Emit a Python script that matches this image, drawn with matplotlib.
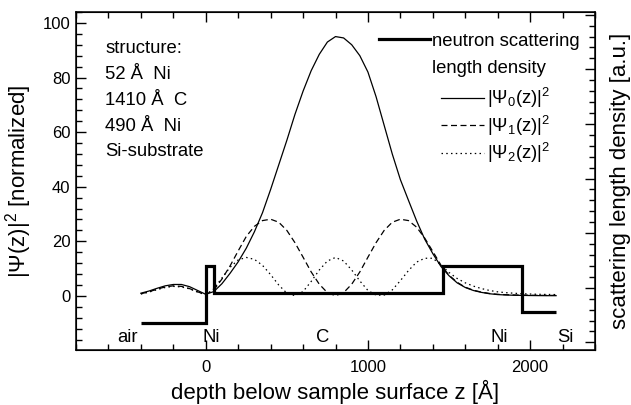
import matplotlib
matplotlib.use('Agg')
import matplotlib.pyplot as plt
from matplotlib.lines import Line2D
from matplotlib.ticker import MultipleLocator

plt.rcParams['font.family'] = ['Liberation Sans', 'DejaVu Sans']
plt.rcParams['mathtext.fontset'] = 'custom'
plt.rcParams['mathtext.rm'] = 'Liberation Sans'
plt.rcParams['mathtext.it'] = 'Liberation Sans'

# depth grid (Å)
z = [-400, -350, -300, -250, -200, -150, -100, -50, 0, 50,
     100, 150, 200, 250, 300, 350, 400, 450, 500, 550,
     600, 650, 700, 750, 800, 850, 900, 950, 1000, 1050,
     1100, 1150, 1200, 1250, 1300, 1350, 1400, 1450, 1500, 1550,
     1600, 1650, 1700, 1750, 1800, 1850, 1900, 1950, 2000, 2050,
     2100, 2160]

psi0 = [1.0, 1.8, 2.8, 3.7, 4.2, 4.2, 3.4, 2.0, 0.6, 1.6,
        4.5, 8.3, 12.5, 17.5, 23.5, 30.5, 39.0, 48.0, 57.0, 66.5,
        75.0, 82.5, 88.5, 93.0, 95.0, 94.5, 92.0, 88.0, 82.0, 73.0,
        62.5, 52.0, 42.6, 35.0, 27.5, 20.8, 15.5, 10.8, 7.4, 4.8,
        3.1, 2.0, 1.3, 0.8, 0.5, 0.35, 0.25, 0.2, 0.15, 0.12,
        0.1, 0.1]

psi1 = [0.8, 1.5, 2.5, 3.3, 3.7, 3.5, 2.7, 1.5, 0.5, 2.2,
        6.2, 11.0, 16.5, 21.8, 25.5, 27.6, 28.1, 27.0, 24.0, 19.5,
        14.2, 8.8, 4.3, 1.2, 0.1, 1.2, 4.3, 8.8, 14.2, 19.5,
        24.0, 27.0, 28.1, 27.6, 25.2, 21.2, 16.3, 11.3, 7.6, 5.0,
        3.2, 2.1, 1.4, 0.9, 0.6, 0.45, 0.35, 0.3, 0.25, 0.22,
        0.2, 0.2]

psi2 = [0.7, 1.4, 2.3, 3.1, 3.5, 3.3, 2.6, 1.4, 0.4, 2.6,
        6.6, 10.5, 13.2, 14.1, 13.4, 11.2, 7.8, 4.0, 1.0, 0.1,
        1.6, 5.3, 9.5, 12.8, 14.1, 12.8, 9.5, 5.5, 2.0, 0.3,
        0.3, 2.2, 5.6, 9.3, 12.4, 13.8, 13.8, 11.4, 8.6, 6.4,
        4.8, 3.6, 2.7, 2.0, 1.5, 1.2, 1.0, 0.8, 0.7, 0.6,
        0.55, 0.5]

# scattering length density profile (layer edges and levels)
sld_edges = [-400, 0, 52, 1462, 1952, 2160]
sld_values = [-10, 11, 1.1, 11, -5.8]

structure = ['structure:', '52 Å  Ni', '1410 Å  C', '490 Å  Ni', 'Si-substrate']
layer_names = ['air', 'Ni', 'C', 'Ni', 'Si']
layer_pos = [-480, 35, 718, 1808, 2215]

fig = plt.figure(figsize=(6.31, 4.05), dpi=100)
fig.subplots_adjust(left=76/631, right=595/631, bottom=55/405, top=393/405)
ax = fig.add_subplot(111)

ax.stairs(sld_values, sld_edges, color='black', linewidth=2.3, baseline=None)
l0, = ax.plot(z, psi0, color='black', linewidth=0.9, linestyle='-')
l1, = ax.plot(z, psi1, color='black', linewidth=0.9, linestyle=(0, (4.8, 2.8)))
l2, = ax.plot(z, psi2, color='black', linewidth=0.9, linestyle=(0, (1.2, 2.6)))

ax.set_xlim(-800, 2400)
ax.set_ylim(-19.8, 104)
ax.xaxis.set_major_locator(MultipleLocator(1000))
ax.xaxis.set_minor_locator(MultipleLocator(200))
ax.yaxis.set_major_locator(MultipleLocator(20))
ax.yaxis.set_minor_locator(MultipleLocator(4))
ax.tick_params(which='both', direction='in', top=True, right=False, labelsize=12, width=1)
ax.tick_params(which='major', length=7)
ax.tick_params(which='minor', length=4)
ax.tick_params(axis='x', pad=7)
ax.tick_params(axis='y', pad=4)
for s in ax.spines.values():
    s.set_linewidth(1.1)

ax2 = ax.twinx()
ax2.set_ylim(-22.8, 101)
ax2.yaxis.set_major_locator(MultipleLocator(20))
ax2.yaxis.set_minor_locator(MultipleLocator(4))
ax2.tick_params(which='both', direction='in', labelright=False, width=1)
ax2.tick_params(which='major', length=7)
ax2.tick_params(which='minor', length=4)
ax2.set_ylabel('scattering length density [a.u.]', fontsize=16, labelpad=11)

ax.set_xlabel('depth below sample surface z [Å]', fontsize=16, labelpad=4)
ax.set_ylabel('|Ψ(z)|$^2$ [normalized]', fontsize=16, labelpad=6)

for i, line in enumerate(structure):
    ax.text(0.056, 0.917 - i * 0.0765, line, transform=ax.transAxes,
            fontsize=13.3, ha='left', va='top')

for name, pos in zip(layer_names, layer_pos):
    ax.text(pos, -15.4, name, fontsize=13.3, ha='center', va='center')

h_sld = Line2D([], [], color='black', linewidth=2.3)
h_blank = Line2D([], [], color='none')
leg1 = ax.legend([h_sld, h_blank], ['neutron scattering', 'length density'],
                 loc='upper right', bbox_to_anchor=(0.971, 0.938), frameon=False,
                 handlelength=2.8, handletextpad=0.1, borderpad=0, borderaxespad=0,
                 labelspacing=0.52, fontsize=13.3)
ax.add_artist(leg1)
ax.legend([l0, l1, l2],
          ['|Ψ$_0$(z)|$^2$', '|Ψ$_1$(z)|$^2$', '|Ψ$_2$(z)|$^2$'],
          loc='upper right', bbox_to_anchor=(0.913, 0.781), frameon=False,
          handlelength=2.3, handletextpad=0.15, borderpad=0, borderaxespad=0,
          labelspacing=0.18, fontsize=13.3)

fig.savefig('out.png', dpi=100)
